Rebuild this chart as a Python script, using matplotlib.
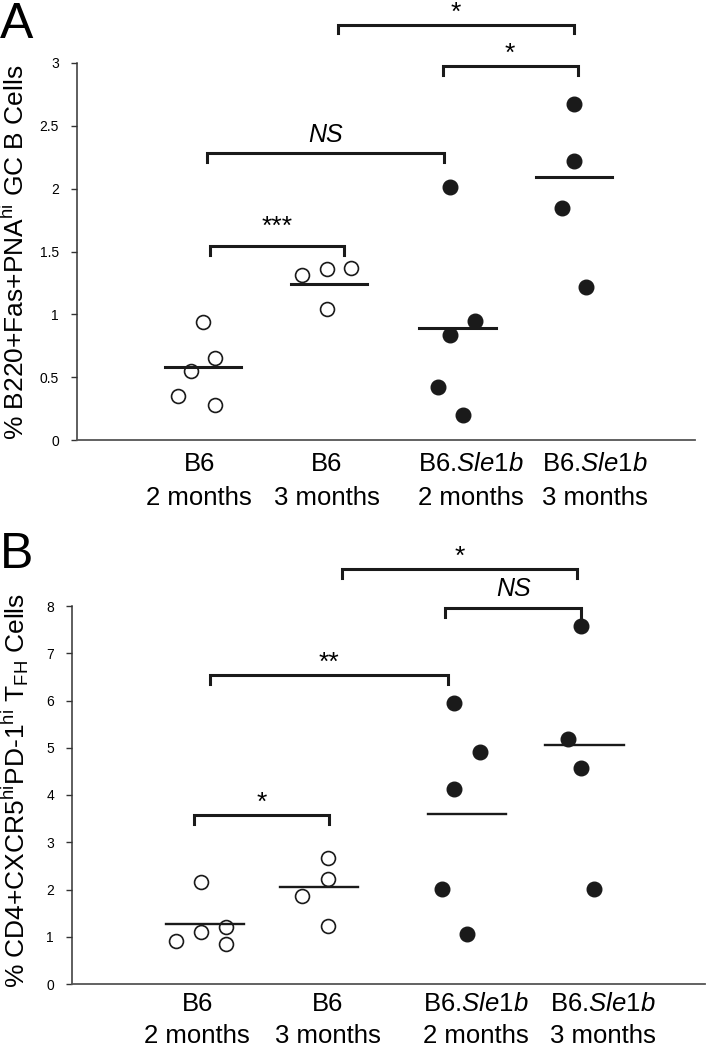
import matplotlib
matplotlib.use('Agg')
import matplotlib.pyplot as plt
import numpy as np

plt.rcParams['font.family'] = ['Liberation Sans', 'DejaVu Sans']
plt.rcParams['mathtext.fontset'] = 'custom'
plt.rcParams['mathtext.rm'] = 'Liberation Sans'
plt.rcParams['mathtext.it'] = 'Liberation Sans:italic'

# group labels
grp_top = ['B6', 'B6', 'B6.$\\mathit{Sle1b}$', 'B6.$\\mathit{Sle1b}$']
grp_bot = ['2 months', '3 months', '2 months', '3 months']
grp_x = [1, 2, 3, 4]
label_x = [0.97, 2.0, 3.17, 4.17]

# panel A - GC B cells (%)
a_vals = [[0.94, 0.65, 0.55, 0.35, 0.28],
          [1.31, 1.36, 1.37, 1.04],
          [2.01, 0.95, 0.835, 0.42, 0.20],
          [2.67, 2.22, 1.85, 1.22]]
a_means = [0.58, 1.245, 0.89, 2.09]
a_ticks = [0, 0.5, 1, 1.5, 2, 2.5, 3]
a_ticklabels = ['0', '0.5', '1', '1.5', '2', '2.5', '3']

# panel B - TFH cells (%)
b_vals = [[2.15, 0.905, 1.09, 1.21, 0.85],
          [2.67, 2.23, 1.86, 1.23],
          [5.95, 4.92, 4.12, 2.02, 1.055],
          [7.57, 5.18, 4.58, 2.01]]
b_means = [1.28, 2.05, 3.59, 5.06]
b_ticks = [0, 1, 2, 3, 4, 5, 6, 7, 8]

# significance brackets: x1, x2, y, text
a_sig = [(1.06, 2.14, 1.545, '***'),
         (1.03, 2.95, 2.28, 'NS'),
         (2.94, 4.03, 2.976, '*'),
         (2.09, 4.00, 3.305, '*')]
b_sig = [(0.94, 2.01, 3.58, '*'),
         (1.07, 2.95, 6.54, '**'),
         (2.93, 4.00, 7.96, 'NS'),
         (2.11, 3.97, 8.78, '*')]

# scatter spread inside each group
a_jit = [[0, 0.1, -0.1, -0.2, 0.1], [-0.2, 0, 0.2, 0], [0, 0.2, 0, -0.1, 0.1], [0, 0, -0.1, 0.1]]
b_jit = [[0, -0.2, 0, 0.2, 0.2], [0, 0, -0.2, 0], [0, 0.2, 0, -0.1, 0.1], [0, -0.1, 0, 0.1]]
a_mean_c = [1.0, 2.02, 3.06, 4.0]
b_mean_c = [1.03, 1.93, 3.1, 4.03]


def draw_panel(ax, vals, means, jit, mean_c, sig, ticks, ticklabels, ymax,
               drop, mean_lw, lab_off):
    for i in range(4):
        xs = np.array(jit[i]) + grp_x[i]
        if i < 2:
            ax.plot(xs, vals[i], 'o', ms=10, mfc='white', mec='#1a1a1a', mew=1.2, clip_on=False)
        else:
            ax.plot(xs, vals[i], 'o', ms=10.5, mfc='#1a1a1a', mec='#1a1a1a', clip_on=False)
        ax.plot([mean_c[i] - 0.31, mean_c[i] + 0.31], [means[i], means[i]], color='#1a1a1a',
                lw=mean_lw)

    for x1, x2, y, t in sig:
        ax.plot([x1, x1, x2, x2], [y - drop, y, y, y - drop], color='#1a1a1a', lw=2.2,
                clip_on=False, solid_joinstyle='miter')
        if t == 'NS':
            ax.annotate(t, xy=((x1 + x2) / 2, y), xytext=(0, 13.5), textcoords='offset points',
                        ha='center', va='center', fontsize=18, style='italic',
                        annotation_clip=False)
        else:
            off = 13.5 if t == '***' else 8.5
            ax.annotate(t, xy=((x1 + x2) / 2, y), xytext=(0, off), textcoords='offset points',
                        ha='center', va='center', fontsize=19, annotation_clip=False)

    ax.set_xlim(-0.02, 4.98)
    ax.set_ylim(0, ymax)
    ax.set_yticks(ticks)
    ax.set_yticklabels(ticklabels)
    ax.tick_params(axis='y', length=4, width=1, pad=9, labelsize=10, color='#333333')
    ax.set_xticks([])
    ax.spines['top'].set_visible(False)
    ax.spines['right'].set_visible(False)
    ax.spines['left'].set_color('#333333')
    ax.spines['bottom'].set_color('#555555')
    ax.spines['left'].set_linewidth(1.1)
    ax.spines['bottom'].set_linewidth(1.3)

    for i in range(4):
        ax.annotate(grp_top[i], xy=(label_x[i], 0), xycoords=('data', 'axes fraction'),
                    xytext=(0, -lab_off[0]), textcoords='offset points',
                    ha='center', va='center', fontsize=18.5)
        ax.annotate(grp_bot[i], xy=(label_x[i], 0), xycoords=('data', 'axes fraction'),
                    xytext=(0, -lab_off[1]), textcoords='offset points',
                    ha='center', va='center', fontsize=18.5)


fig = plt.figure(figsize=(7.07, 10.5), dpi=100)

axA = fig.add_axes([77 / 707, 1 - 440 / 1050, 618 / 707, 377 / 1050])
draw_panel(axA, a_vals, a_means, a_jit, a_mean_c, a_sig, a_ticks, a_ticklabels, 3,
           0.07, 2.2, (17, 41.5))
fig.text(15 / 707, 1 - 252 / 1050, '% B220+Fas+PNA$^{\\mathrm{hi}}$ GC B Cells',
         rotation=90, ha='center', va='center', fontsize=19)
fig.text(0 / 707, 1 - 25 / 1050, 'A', ha='left', va='center', fontsize=36)

axB = fig.add_axes([72 / 707, 1 - 984 / 1050, 633 / 707, 378 / 1050])
draw_panel(axB, b_vals, b_means, b_jit, b_mean_c, b_sig, b_ticks,
           [str(t) for t in b_ticks], 8, 0.19, 1.7, (14.5, 37.5))
fig.text(15 / 707, 1 - 790 / 1050,
         '% CD4+CXCR5$^{\\mathrm{hi}}$PD-1$^{\\mathrm{hi}}$ T$_{\\mathrm{FH}}$ Cells',
         rotation=90, ha='center', va='center', fontsize=19)
fig.text(0 / 707, 1 - 555 / 1050, 'B', ha='left', va='center', fontsize=36)

fig.savefig('out.png', dpi=100)
